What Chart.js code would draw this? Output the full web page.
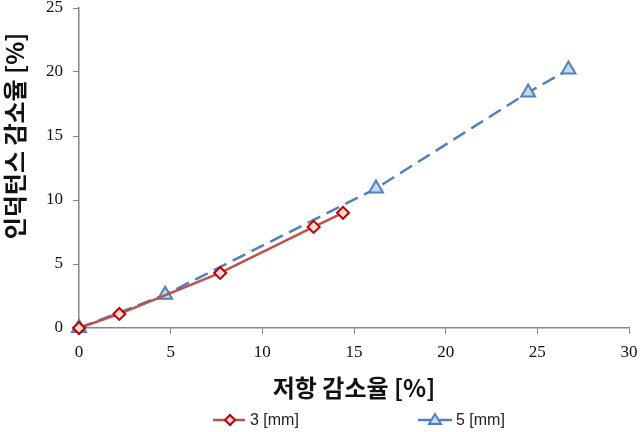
<!DOCTYPE html>
<html>
<head>
<meta charset="utf-8">
<script src="https://cdn.jsdelivr.net/npm/chart.js@4"></script>
<style>
  body { margin: 0; background: #fff; }
  #wrap { width: 642px; height: 432px; }
</style>
</head>
<body>
<div id="wrap"><canvas id="myChart"></canvas></div>
<script>
let xTicks = [0, 5, 10, 15, 20, 25, 30];
let yTicks = [0, 5, 10, 15, 20, 25];
let names = ["3 [mm]", "5 [mm]"];
let x3 = [0, 2.2, 7.7, 12.8, 14.4];
let y3 = [0, 1.1, 4.3, 7.9, 9.0];
let x5 = [0, 4.7, 16.2, 24.5, 26.7];
let y5 = [0, 2.6, 10.9, 18.4, 20.2];

let toPts = (xs, ys) => xs.map((v, i) => ({ x: v, y: ys[i] }));

// legend with line + marker like excel
let legendPlug = {
  id: "excelLegend",
  afterDraw(chart) {
    let ctx = chart.ctx;
    let y = 420;
    let items = [{ x1: 213, x2: 245, mx: 230, tx: 250 }, { x1: 418, x2: 452, mx: 435, tx: 456 }];
    chart.data.datasets.forEach((ds, i) => {
      let it = items[i];
      ctx.save();
      ctx.strokeStyle = ds.borderColor;
      ctx.lineWidth = 2.5;
      ctx.setLineDash(ds.borderDash || []);
      ctx.beginPath();
      ctx.moveTo(it.x1, y);
      ctx.lineTo(it.x2, y);
      ctx.stroke();
      ctx.setLineDash([]);
      ctx.fillStyle = ds.pointBackgroundColor;
      ctx.strokeStyle = ds.pointBorderColor;
      ctx.lineWidth = 2;
      if (ds.pointStyle === "rectRot") {
        ctx.beginPath();
        ctx.moveTo(it.mx, y - 5); ctx.lineTo(it.mx + 5, y); ctx.lineTo(it.mx, y + 5); ctx.lineTo(it.mx - 5, y);
        ctx.closePath();
      } else {
        ctx.beginPath();
        ctx.moveTo(it.mx, y - 6); ctx.lineTo(it.mx + 6, y + 4); ctx.lineTo(it.mx - 6, y + 4);
        ctx.closePath();
      }
      ctx.fill(); ctx.stroke();
      ctx.fillStyle = "#222";
      ctx.font = "16px 'Liberation Sans', Arial, sans-serif";
      ctx.textBaseline = "middle";
      ctx.textAlign = "left";
      ctx.fillText(ds.label, it.tx, y + 1);
      ctx.restore();
    });
    // y title
    ctx.save();
    ctx.translate(15, 136);
    ctx.rotate(-Math.PI / 2);
    ctx.fillStyle = "#111";
    ctx.font = "bold 24px 'Noto Sans CJK KR', sans-serif";
    ctx.textAlign = "center";
    ctx.textBaseline = "middle";
    ctx.fillText("인덕턴스 감소율 [%]", 0, 0);
    ctx.restore();
  }
};

let crt = document.getElementById("myChart");
let chart = new Chart(crt, {
  type: "scatter",
  data: {
    datasets: [{
      label: names[0],
      data: toPts(x3, y3),
      showLine: true,
      clip: false,
      borderColor: "#C0504D",
      borderWidth: 2.5,
      pointStyle: "rectRot",
      pointRadius: 6,
      pointBorderWidth: 2,
      pointBorderColor: "#C00000",
      pointBackgroundColor: "#F2DCDB"
    }, {
      label: names[1],
      data: toPts(x5, y5),
      showLine: true,
      clip: false,
      borderColor: "#4F81BD",
      borderWidth: 2.5,
      borderDash: [14, 7],
      pointStyle: "triangle",
      pointRadius: 8,
      pointBorderWidth: 2,
      pointBorderColor: "#4F81BD",
      pointBackgroundColor: "#C6D9F1"
    }]
  },
  options: {
    responsive: true,
    maintainAspectRatio: false,
    animation: false,
    layout: { autoPadding: false, padding: { top: 8, right: 13, left: 0, bottom: 0 } },
    plugins: { legend: { display: false }, tooltip: { enabled: false } },
    scales: {
      x: {
        type: "linear",
        min: 0, max: 30,
        afterBuildTicks: (s) => { s.ticks = xTicks.map(v => ({ value: v })); },
        afterFit: (s) => { s.height = 104; s.paddingLeft = 0; s.paddingRight = 0; },
        grid: { drawOnChartArea: false, color: "#868686", tickLength: 6, lineWidth: 1 },
        border: { color: "#868686", width: 1.5 },
        ticks: { color: "#111", padding: 8, font: { family: "'Liberation Serif', 'Times New Roman', serif", size: 17 } },
        title: {
          display: true,
          text: "저항 감소율 [%]",
          color: "#111",
          font: { family: "'Noto Sans CJK KR', sans-serif", size: 24, weight: "bold" },
          padding: { top: 0, bottom: 30 }
        }
      },
      y: {
        type: "linear",
        min: 0, max: 25,
        afterBuildTicks: (s) => { s.ticks = yTicks.map(v => ({ value: v })); },
        afterFit: (s) => { s.width = 79; s.paddingTop = 0; s.paddingBottom = 0; },
        grid: { drawOnChartArea: false, color: "#868686", tickLength: 6, lineWidth: 1 },
        border: { color: "#868686", width: 1.5 },
        ticks: { color: "#111", padding: 10, font: { family: "'Liberation Serif', 'Times New Roman', serif", size: 17 } }
      }
    }
  },
  plugins: [legendPlug]
});
</script>
</body>
</html>
